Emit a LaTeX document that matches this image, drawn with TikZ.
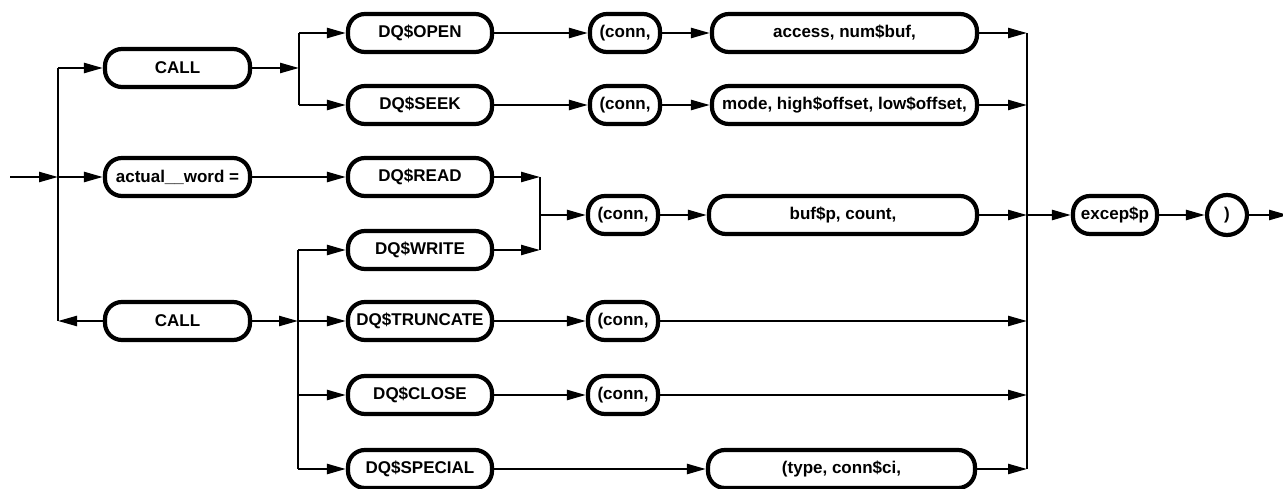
\documentclass[tikz,border=0pt]{standalone}
\usepackage{fontspec}
\setmainfont{Liberation Sans}
\usetikzlibrary{arrows.meta}
\begin{document}
\begin{tikzpicture}[x=1pt,y=-1pt,
  box/.style={draw, line width=4.2pt, rounded corners=17pt, minimum height=38pt,
    inner sep=0pt, font=\fontsize{17}{20}\selectfont\bfseries},
  rnd/.style={draw, circle, line width=4.2pt, minimum size=40pt, inner sep=0pt,
    font=\fontsize{17}{20}\selectfont\bfseries},
  wire/.style={line width=2.4pt},
  arr/.style={wire, -{Triangle[length=19pt,width=10pt]}}]
\useasboundingbox (0,0) rectangle (1283,489);

% first column
\node[box, minimum width=145pt] (call1) at (177.5,68) {CALL};
\node[box, minimum width=145pt] (actw)  at (177.5,177) {actual\_\_word =};
\node[box, minimum width=145pt] (call2) at (177.5,321) {CALL};

% procedure names
\node[box, minimum width=144pt] (open)    at (420,33)  {DQ\$OPEN};
\node[box, minimum width=144pt] (seek)    at (420,105) {DQ\$SEEK};
\node[box, minimum width=144pt] (read)    at (420,177) {DQ\$READ};
\node[box, minimum width=144pt] (write)   at (420,250) {DQ\$WRITE};
\node[box, minimum width=144pt] (trunc)   at (420,321) {DQ\$TRUNCATE};
\node[box, minimum width=144pt] (close)   at (420,395) {DQ\$CLOSE};
\node[box, minimum width=144pt] (special) at (420,469) {DQ\$SPECIAL};

% connection arguments
\node[box, minimum width=70pt] (c1) at (625,33)  {(conn,};
\node[box, minimum width=70pt] (c2) at (625,105) {(conn,};
\node[box, minimum width=70pt] (c3) at (623,215) {(conn,};
\node[box, minimum width=70pt] (c4) at (623,321) {(conn,};
\node[box, minimum width=70pt] (c5) at (623,395) {(conn,};

% remaining arguments
\node[box, minimum width=265pt] (acc)  at (844.5,33)  {access, num\$buf,};
\node[box, minimum width=265pt] (mode) at (844.5,105) {mode, high\$offset, low\$offset,};
\node[box, minimum width=268pt] (bufp) at (843,215)   {buf\$p, count,};
\node[box, minimum width=267pt] (type) at (841.5,469) {(type, conn\$ci,};

% tail
\node[box, minimum width=84pt] (excep) at (1115,215) {excep\$p};
\node[rnd] (paren) at (1227,215) {)};

% junction points
\coordinate (start) at (10,177);
\coordinate (j0t) at (58,68);
\coordinate (j0m) at (58,177);
\coordinate (j0b) at (58,321);
\coordinate (j1t) at (299,33);
\coordinate (j1m) at (299,68);
\coordinate (j1b) at (299,105);
\coordinate (j2t) at (540,177);
\coordinate (j2m) at (540,215);
\coordinate (j2b) at (540,250);
\coordinate (j3t) at (298,250);
\coordinate (j3m) at (298,321);
\coordinate (j3c) at (298,395);
\coordinate (j3b) at (298,469);
\coordinate (j4a) at (1027,33);
\coordinate (j4b) at (1027,105);
\coordinate (j4c) at (1027,215);
\coordinate (j4d) at (1027,321);
\coordinate (j4e) at (1027,395);
\coordinate (j4f) at (1027,469);
\coordinate (stop) at (1288,215);

% vertical rails
\draw[wire] (j0t) -- (j0b);
\draw[wire] (j1t) -- (j1b);
\draw[wire] (j2t) -- (j2b);
\draw[wire] (j3t) -- (j3b);
\draw[wire] (j4a) -- (j4f);

% entry and first column
\draw[arr] (start) -- (j0m);
\draw[arr] (j0t) -- (call1.west);
\draw[arr] (j0m) -- (actw.west);
\draw[arr] (call2.west) -- (j0b);

% upper CALL branch
\draw[arr] (call1.east) -- (j1m);
\draw[arr] (j1t) -- (open.west);
\draw[arr] (j1b) -- (seek.west);
\draw[arr] (open.east) -- (c1.west);
\draw[arr] (seek.east) -- (c2.west);
\draw[arr] (c1.east) -- (acc.west);
\draw[arr] (c2.east) -- (mode.west);

% read / write
\draw[arr] (actw.east) -- (read.west);
\draw[arr] (read.east) -- (j2t);
\draw[arr] (write.east) -- (j2b);
\draw[arr] (j2m) -- (c3.west);
\draw[arr] (c3.east) -- (bufp.west);

% lower CALL branch
\draw[arr] (call2.east) -- (j3m);
\draw[arr] (j3t) -- (write.west);
\draw[arr] (j3m) -- (trunc.west);
\draw[arr] (j3c) -- (close.west);
\draw[arr] (j3b) -- (special.west);
\draw[arr] (trunc.east) -- (c4.west);
\draw[arr] (close.east) -- (c5.west);
\draw[arr] (special.east) -- (type.west);

% into the right rail
\draw[arr] (acc.east) -- (j4a);
\draw[arr] (mode.east) -- (j4b);
\draw[arr] (bufp.east) -- (j4c);
\draw[arr] (c4.east) -- (j4d);
\draw[arr] (c5.east) -- (j4e);
\draw[arr] (type.east) -- (j4f);

% exit
\draw[arr] (j4c) -- (excep.west);
\draw[arr] (excep.east) -- (paren.west);
\draw[arr] (paren.east) -- (stop);
\end{tikzpicture}
\end{document}
